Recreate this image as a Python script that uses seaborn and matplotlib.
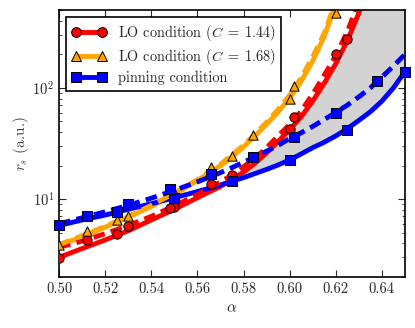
import numpy as np
import matplotlib
matplotlib.use("Agg")
import matplotlib.pyplot as plt
import seaborn as sns

# curve values (solid = one fit, dashed = the other)
x_grid = [0.50, 0.51, 0.52, 0.53, 0.54, 0.55, 0.56, 0.57,
          0.575, 0.58, 0.585, 0.59, 0.595, 0.60, 0.605, 0.61,
          0.615, 0.62, 0.625, 0.63, 0.635, 0.64, 0.645, 0.65]
red_solid = [3.0, 3.6, 4.3, 5.2, 6.5, 8.1, 10.3, 13.0,
             15.0, 17.5, 21.0, 26.0, 33.0, 42.0, 55.0, 76.0,
             110.0, 165.0, 265.0, 470.0, 1000.0, 3000.0, 9000.0, 9000.0]
red_dash = [3.7, 4.2, 4.9, 5.8, 7.0, 8.7, 11.0, 14.3,
            16.5, 19.5, 23.5, 29.0, 37.0, 47.0, 62.0, 88.0,
            130.0, 195.0, 320.0, 600.0, 1500.0, 5000.0, 9000.0, 9000.0]
orange_solid = [3.85, 4.6, 5.6, 6.9, 8.6, 11.0, 14.7, 20.0,
                24.0, 29.5, 37.0, 47.0, 61.0, 81.0, 115.0, 175.0,
                290.0, 560.0, 1500.0, 5000.0, 9000.0, 9000.0, 9000.0, 9000.0]
orange_dash = [3.9, 4.7, 5.7, 7.0, 8.8, 11.3, 15.0, 20.5,
               25.0, 30.5, 38.5, 49.0, 64.0, 86.0, 123.0, 190.0,
               310.0, 600.0, 1600.0, 5000.0, 9000.0, 9000.0, 9000.0, 9000.0]
blue_solid = [5.8, 6.5, 7.2, 8.1, 9.1, 10.3, 11.7, 13.4,
              14.5, 15.6, 17.0, 18.5, 20.3, 22.5, 25.5, 29.0,
              32.5, 37.0, 43.0, 51.0, 61.0, 76.0, 100.0, 140.0]
blue_dash = [6.0, 6.8, 7.7, 8.8, 10.2, 12.0, 14.3, 17.3,
             19.2, 21.5, 24.0, 27.0, 30.5, 35.0, 39.5, 45.0,
             52.0, 60.0, 70.0, 83.0, 100.0, 125.0, 157.0, 200.0]

# data points
red_pts_a_x = [0.50, 0.525, 0.55, 0.575, 0.60, 0.625]
red_pts_a_y = [2.97, 4.87, 8.48, 16.5, 43.0, 277.0]
red_pts_b_x = [0.512, 0.530, 0.548, 0.566, 0.602, 0.620]
red_pts_b_y = [4.33, 5.78, 8.3, 13.6, 54.6, 201.0]
orange_pts_a_x = [0.50, 0.525, 0.55, 0.575, 0.60]
orange_pts_a_y = [3.85, 6.53, 11.5, 24.4, 79.8]
orange_pts_b_x = [0.512, 0.530, 0.548, 0.566, 0.584, 0.602, 0.620]
orange_pts_b_y = [5.14, 7.0, 12.3, 19.5, 38.0, 103.0, 473.0]
blue_pts_a_x = [0.50, 0.525, 0.55, 0.575, 0.60, 0.625, 0.65]
blue_pts_a_y = [5.81, 7.65, 10.2, 14.7, 22.4, 42.2, 140.0]
blue_pts_b_x = [0.512, 0.530, 0.548, 0.566, 0.584, 0.602, 0.620, 0.638]
blue_pts_b_y = [7.0, 9.0, 12.3, 16.8, 24.0, 36.2, 59.3, 116.0]

labels = [r"LO condition ($C\;=\;1.44$)", r"LO condition ($C\;=\;1.68$)",
          "pinning condition"]

sns.set_style("ticks")
plt.rcParams["font.family"] = "serif"
plt.rcParams["font.serif"] = ["cmr10", "DejaVu Serif"]
plt.rcParams["mathtext.fontset"] = "cm"
plt.rcParams["axes.formatter.use_mathtext"] = True
plt.rcParams["axes.unicode_minus"] = False

fig = plt.figure(figsize=(4.15, 3.28), dpi=100)
ax = fig.add_axes([0.1422, 0.1555, 0.8337, 0.814])

RED, ORANGE, BLUE = "#ff0000", "#ffa500", "#0000ff"
lw = 3.5
dash = (0, (2.4, 1.3))

xg = np.array(x_grid)
rs = np.array(red_solid)
bs = np.array(blue_solid)
ax.fill_between(xg, bs, rs, where=rs > bs, interpolate=True,
                color="#d3d3d3", lw=0, zorder=1)

for ys, col in [(red_solid, RED), (orange_solid, ORANGE), (blue_solid, BLUE)]:
    sns.lineplot(x=x_grid, y=ys, color=col, lw=lw, ax=ax, zorder=2)
for ys, col in [(red_dash, RED), (orange_dash, ORANGE), (blue_dash, BLUE)]:
    sns.lineplot(x=x_grid, y=ys, color=col, lw=lw, ax=ax, zorder=2,
                 linestyle=dash)

pts = [(red_pts_a_x, red_pts_a_y, RED, "o"), (red_pts_b_x, red_pts_b_y, RED, "o"),
       (orange_pts_a_x, orange_pts_a_y, ORANGE, "^"),
       (orange_pts_b_x, orange_pts_b_y, ORANGE, "^"),
       (blue_pts_a_x, blue_pts_a_y, BLUE, "s"), (blue_pts_b_x, blue_pts_b_y, BLUE, "s")]
for i, (px, py, col, m) in enumerate(pts):
    sns.scatterplot(x=px, y=py, color=col, marker=m, s=45, edgecolor="black",
                    linewidth=0.7, ax=ax, zorder=3 + i, clip_on=(m != "s"))

# legend proxies
handles = []
for col, m in [(RED, "o"), (ORANGE, "^"), (BLUE, "s")]:
    h, = ax.plot([], [], color=col, lw=lw, marker=m, ms=7, mec="black", mew=0.7)
    handles.append(h)
leg = ax.legend(handles, labels, loc="upper left", numpoints=2, fontsize=10.3,
                fancybox=False, framealpha=1, edgecolor="black",
                handlelength=2.4, borderaxespad=0.5, labelspacing=0.28)
leg.get_frame().set_linewidth(1.2)

ax.set_yscale("log")
ax.set_xlim(0.50, 0.65)
ax.set_ylim(2, 500)
ax.set_xticks([0.50, 0.52, 0.54, 0.56, 0.58, 0.60, 0.62, 0.64])
ax.set_xticklabels(["0.50", "0.52", "0.54", "0.56", "0.58", "0.60", "0.62", "0.64"])
ax.set_xlabel(r"$\alpha$", fontsize=11)
ax.set_ylabel(r"$r_s$ (a.u.)", fontsize=11, color="#444444", labelpad=1)
ax.tick_params(which="both", direction="in", top=True, right=True, labelsize=10.5)
ax.tick_params(which="major", length=5, width=0.8)
ax.tick_params(which="minor", length=2.5, width=0.6)
ax.yaxis.set_minor_formatter(matplotlib.ticker.NullFormatter())
for s in ax.spines.values():
    s.set_linewidth(1.2)
    s.set_color("black")

fig.savefig("out.png", dpi=100)
